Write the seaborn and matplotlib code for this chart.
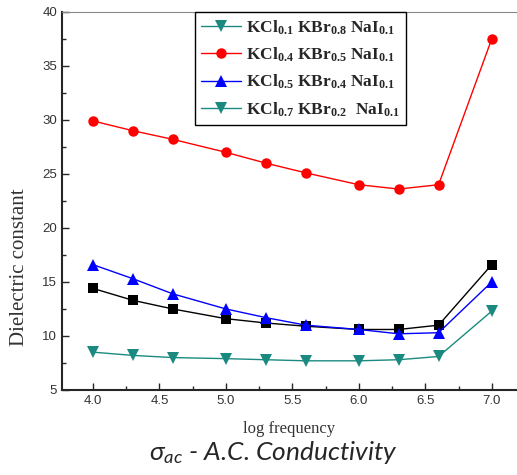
import pandas as pd
import seaborn as sns
import matplotlib.pyplot as plt
from matplotlib.ticker import MultipleLocator
from matplotlib.lines import Line2D

sns.set_style("ticks")
plt.rcParams["mathtext.fontset"] = "custom"
plt.rcParams["mathtext.rm"] = "Liberation Serif"
plt.rcParams["mathtext.bf"] = "Liberation Serif:bold"
plt.rcParams["mathtext.it"] = "Lato:italic"

log_freq = [4.0, 4.3, 4.6, 5.0, 5.3, 5.6, 6.0, 6.3, 6.6, 7.0]
black_sq = [14.4, 13.3, 12.5, 11.6, 11.2, 10.9, 10.6, 10.6, 11.0, 16.6]
red_kcl04 = [29.9, 29.0, 28.2, 27.0, 26.0, 25.1, 24.0, 23.6, 24.0, 37.5]
blue_kcl05 = [16.6, 15.3, 13.9, 12.5, 11.7, 11.0, 10.6, 10.2, 10.3, 15.0]
teal_kcl07 = [8.5, 8.2, 8.0, 7.9, 7.8, 7.7, 7.7, 7.8, 8.1, 12.3]

legend_labels = [
    r"$\mathbf{KCl}_{\mathbf{0.1}}\ \mathbf{KBr}_{\mathbf{0.8}}\ \mathbf{NaI}_{\mathbf{0.1}}$",
    r"$\mathbf{KCl}_{\mathbf{0.4}}\ \mathbf{KBr}_{\mathbf{0.5}}\ \mathbf{NaI}_{\mathbf{0.1}}$",
    r"$\mathbf{KCl}_{\mathbf{0.5}}\ \mathbf{KBr}_{\mathbf{0.4}}\ \mathbf{NaI}_{\mathbf{0.1}}$",
    r"$\mathbf{KCl}_{\mathbf{0.7}}\ \mathbf{KBr}_{\mathbf{0.2}}\ \ \mathbf{NaI}_{\mathbf{0.1}}$",
]

teal = "#1a8a80"

fig = plt.figure(figsize=(5.17, 4.75), dpi=100)
ax = fig.add_axes([0.12, 0.179, 0.88, 0.796])

series = [
    (black_sq, "black", "s", 7),
    (red_kcl04, "#ff0000", "o", 7.5),
    (blue_kcl05, "#0000ff", "^", 8),
    (teal_kcl07, teal, "v", 8),
]
for vals, col, mk, ms in series:
    df = pd.DataFrame({"x": log_freq, "y": vals})
    sns.lineplot(data=df, x="x", y="y", ax=ax, color=col, marker=mk,
                 markersize=ms, markeredgewidth=0, linewidth=1)

ax.set_xlim(3.767, 7.19)
ax.set_ylim(5, 40)
ax.xaxis.set_major_locator(MultipleLocator(0.5))
ax.xaxis.set_minor_locator(MultipleLocator(0.25))
ax.yaxis.set_major_locator(MultipleLocator(5))
ax.yaxis.set_minor_locator(MultipleLocator(2.5))
ax.tick_params(which="both", direction="in", top=False, right=False,
               labelsize=9.5, labelcolor="#333333")
ax.tick_params(which="major", length=5, width=1)
ax.tick_params(which="minor", length=3, width=1)
for lab in ax.get_xticklabels() + ax.get_yticklabels():
    lab.set_fontfamily("Liberation Sans")

ax.spines["right"].set_visible(False)
ax.spines["top"].set_color("#888888")
ax.spines["left"].set_linewidth(1.5)
ax.spines["bottom"].set_linewidth(1.5)

ax.set_xlabel("log frequency", fontfamily="Liberation Serif", fontsize=12,
              color="#333333", labelpad=10)
ax.set_ylabel("Dielectric constant", fontfamily="Liberation Serif",
              fontsize=15, color="#333333")
ax.yaxis.set_label_coords(-0.073, 0.325)

handles = [
    Line2D([], [], color=teal, marker="v", markersize=8, markeredgewidth=0, lw=1),
    Line2D([], [], color="#ff0000", marker="o", markersize=7.5, markeredgewidth=0, lw=1),
    Line2D([], [], color="#0000ff", marker="^", markersize=8, markeredgewidth=0, lw=1),
    Line2D([], [], color=teal, marker="v", markersize=8, markeredgewidth=0, lw=1),
]
leg = ax.legend(handles, legend_labels, loc="upper left",
                bbox_to_anchor=(0.292, 1.0), borderaxespad=0, fontsize=12.5,
                frameon=True, fancybox=False, edgecolor="black", framealpha=1,
                handlelength=2.3, handletextpad=0.3, labelspacing=0.5,
                borderpad=0.35)
leg.get_frame().set_linewidth(1)

fig.text(0.529, 0.032, r"$\sigma_{ac}$ - A.C. Conductivity", fontsize=19,
         ha="center", va="baseline", fontfamily="Lato", style="italic")

fig.savefig("out.png", dpi=100)
